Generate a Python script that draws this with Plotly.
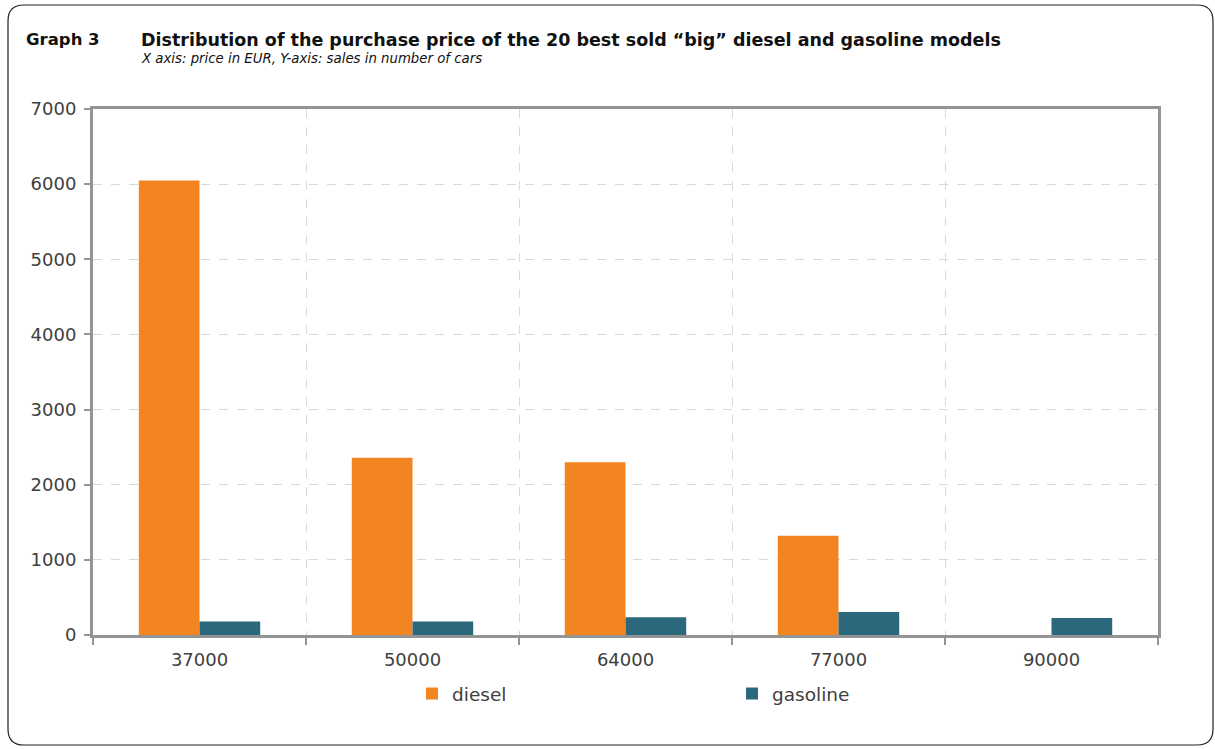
import plotly.graph_objects as go

categories = ["37000", "50000", "64000", "77000", "90000"]
diesel = [6050, 2360, 2300, 1320, 0]
gasoline = [180, 180, 235, 305, 225]

W, H = 1215, 749
ML, MR, MT, MB = 93, 57, 109, 114
PW, PH = W - ML - MR, H - MT - MB

def px(x):
    return (x - ML) / PW

def py(y):
    return (H - MB - y) / PH

fig = go.Figure()
fig.add_trace(go.Bar(name="diesel", x=categories, y=diesel, marker_color="#F38422",
                     marker_line_width=0))
fig.add_trace(go.Bar(name="gasoline", x=categories, y=gasoline, marker_color="#2C687C",
                     marker_line_width=0))

FONT = "DejaVu Sans"
axis_gray = "#949494"

fig.update_layout(
    width=W, height=H,
    margin=dict(l=ML, r=MR, t=MT, b=MB),
    paper_bgcolor="white", plot_bgcolor="white",
    barmode="group", bargap=0.43, bargroupgap=0,
    font=dict(family=FONT, color="#404040"),
    showlegend=True,
    legend=dict(orientation="h", x=px(412), y=py(694), xanchor="left", yanchor="middle",
                entrywidth=275, entrywidthmode="pixels",
                font=dict(size=18.5, color="#404040", family=FONT),
                itemwidth=30, tracegroupgap=0),
    xaxis=dict(type="category", tickson="boundaries", ticks="outside", ticklen=7,
               tickcolor=axis_gray, tickwidth=2,
               showline=True, linecolor=axis_gray, linewidth=3, mirror=True,
               showgrid=True, gridcolor="#D9D9D9", griddash="dash", gridwidth=1,
               tickfont=dict(size=18, color="#404040"), ticklabelstandoff=6),
    yaxis=dict(range=[0, 7000], dtick=1000, tick0=0, ticks="outside", ticklen=6,
               tickcolor=axis_gray, tickwidth=2,
               showline=True, linecolor=axis_gray, linewidth=3, mirror=True,
               showgrid=True, gridcolor="#D9D9D9", griddash="dash", gridwidth=1,
               zeroline=False,
               tickfont=dict(size=18, color="#404040"), ticklabelstandoff=4),
)

fig.add_annotation(text="<b>Graph 3</b>", xref="paper", yref="paper",
                   x=px(24), y=py(40), xanchor="left", yanchor="middle", showarrow=False,
                   font=dict(size=16.5, color="#111111", family=FONT))
fig.add_annotation(text="<b>Distribution of the purchase price of the 20 best sold \u201cbig\u201d diesel and gasoline models</b>",
                   xref="paper", yref="paper",
                   x=px(139), y=py(40), xanchor="left", yanchor="middle", showarrow=False,
                   font=dict(size=17.5, color="#111111", family=FONT))
fig.add_annotation(text="<i>X axis: price in EUR, Y-axis: sales in number of cars</i>",
                   xref="paper", yref="paper",
                   x=px(139), y=py(59), xanchor="left", yanchor="middle", showarrow=False,
                   font=dict(size=13.3, color="#111111", family=FONT))

# rounded outer frame
x0, x1, y0, y1, r = 8, 1213, 5, 745, 16
path = (f"M {px(x0+r)} {py(y0)} L {px(x1-r)} {py(y0)} Q {px(x1)} {py(y0)} {px(x1)} {py(y0+r)} "
        f"L {px(x1)} {py(y1-r)} Q {px(x1)} {py(y1)} {px(x1-r)} {py(y1)} "
        f"L {px(x0+r)} {py(y1)} Q {px(x0)} {py(y1)} {px(x0)} {py(y1-r)} "
        f"L {px(x0)} {py(y0+r)} Q {px(x0)} {py(y0)} {px(x0+r)} {py(y0)} Z")
fig.add_shape(type="path", path=path, xref="paper", yref="paper",
              line=dict(color="#222222", width=1.2), layer="below")

fig.write_html("out.html")
